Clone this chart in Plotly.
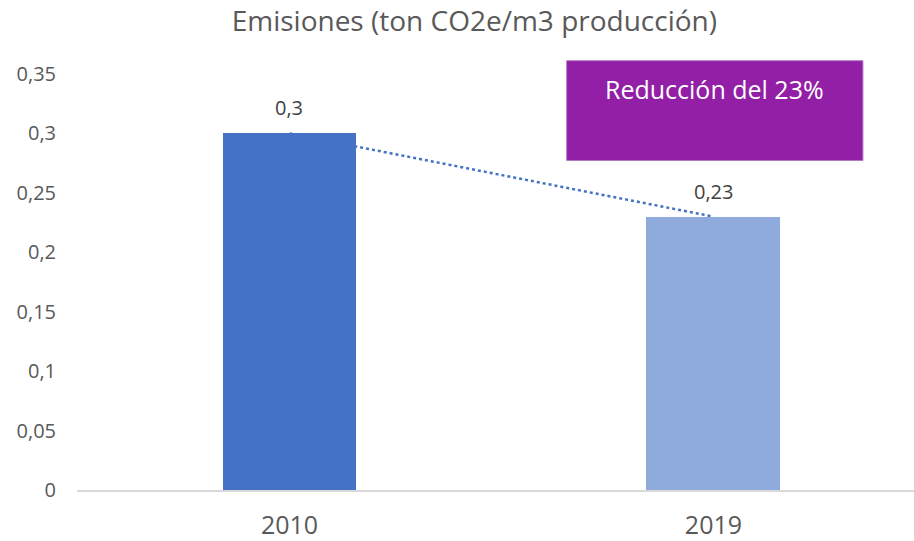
import plotly.graph_objects as go

# data
years = ["2010", "2019"]
emisiones = [0.3, 0.23]
ytick_vals = [0, 0.05, 0.1, 0.15, 0.2, 0.25, 0.3, 0.35]
ytick_text = ["0", "0,05", "0,1", "0,15", "0,2", "0,25", "0,3", "0,35"]
titulo = "Emisiones (ton CO2e/m3 producción)"
nota = "Reducción del 23%"

bar_colors = ["#4472C4", "#8FAADC"]
gray = "#595959"
font = "Open Sans"

fig = go.Figure()

# dotted trend line, on the base axis so the bars are drawn over it
fig.add_trace(go.Scatter(x=years, y=emisiones, mode="lines",
                         line=dict(color="#4472C4", width=2.5, dash="dot"),
                         hoverinfo="skip", showlegend=False))

# bars on an overlaying axis -> drawn on top of the line
fig.add_trace(go.Bar(x=years, y=emisiones, yaxis="y2", width=0.316,
                     marker=dict(color=bar_colors, line=dict(width=0)),
                     showlegend=False))

# value labels (category axis -> position by index)
for i, v in enumerate(emisiones):
    fig.add_annotation(x=i, y=v, text=f"{v:g}".replace(".", ","), showarrow=False,
                       xanchor="center", yanchor="bottom", yshift=10,
                       font=dict(size=20, color="#404040", family=font))

# purple box
fig.add_shape(type="rect", xref="paper", yref="paper", x0=0.585, x1=0.939, y0=0.792, y1=1.032,
              fillcolor="#921FA6", line=dict(color="#B07CC6", width=1), layer="above")
fig.add_annotation(xref="paper", yref="paper", x=0.762, y=0.964, text=nota, showarrow=False,
                   xanchor="center", yanchor="middle",
                   font=dict(size=25, color="white", family=font))

yr_range = [0, 0.35]
fig.update_layout(
    width=914, height=541,
    margin=dict(l=77, r=0, t=74, b=51),
    paper_bgcolor="white", plot_bgcolor="white",
    font=dict(family=font, color=gray),
    title=dict(text=titulo, x=0.519, xanchor="center", y=0.96, yanchor="middle",
               font=dict(size=28, color=gray, family=font)),
    xaxis=dict(type="category", range=[-0.5012, 1.473], showgrid=False, showline=True,
               linecolor="#D9D9D9", linewidth=1.5, ticks="", ticklabelstandoff=12,
               tickfont=dict(size=25, color=gray)),
    yaxis=dict(range=yr_range, tickvals=ytick_vals, ticktext=ytick_text, showgrid=False,
               zeroline=False, showline=False, ticks="", ticklabelstandoff=20,
               tickfont=dict(size=20, color=gray)),
    yaxis2=dict(range=yr_range, overlaying="y", visible=False),
    bargap=0,
)

fig.write_html("out.html", config={"displayModeBar": False},
               post_script="document.body.style.margin='0';")
